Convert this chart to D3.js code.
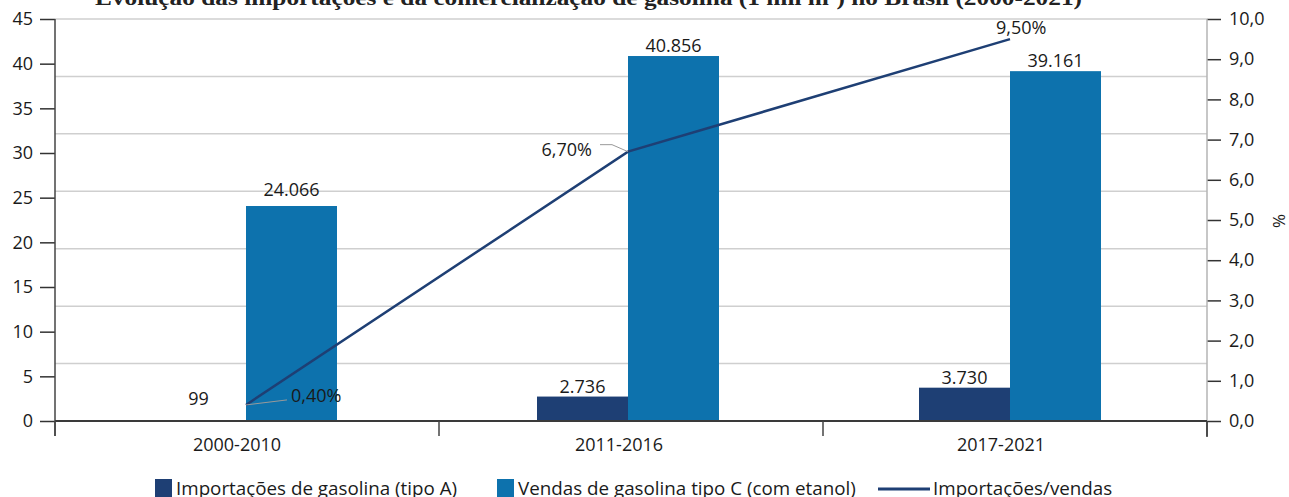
<!DOCTYPE html>
<html><head><meta charset="utf-8">
<script src="https://cdn.jsdelivr.net/npm/d3@7"></script>
<style>
html,body{margin:0;padding:0;background:#fff;}
svg{display:block;}
text{font-family:"Open Sans",sans-serif;fill:#1a1a1a;}
</style></head>
<body>
<svg id="chart" width="1289" height="497"></svg>
<script>
const titleText = "Evolução das importações e da comercialização de gasolina (1 mil m³) no Brasil (2000-2021)";
const categories = ["2000-2010", "2011-2016", "2017-2021"];
const importsA = [0.099, 2.736, 3.730];      // mil m³ (thousands)
const salesC = [24.066, 40.856, 39.161];
const ratioPct = [0.40, 6.70, 9.50];
const leftTicks = [0, 5, 10, 15, 20, 25, 30, 35, 40, 45];
const rightTicks = [0, 1, 2, 3, 4, 5, 6, 7, 8, 9, 10];
const seriesNames = ["Importações de gasolina (tipo A)", "Vendas de gasolina tipo C (com etanol)", "Importações/vendas"];

const FS = "18px", FSL = "18.8px";
const colA = "#1e3f74", colC = "#0d72ad", colLine = "#1e3f74";
const svg = d3.select("#chart");
const L = 55, R = 1207, T = 19, B = 421;

const yL = d3.scaleLinear().domain([0, 45]).range([B, T]);
const yR = d3.scaleLinear().domain([0, 10]).range([B, T]);
const xAxisScale = d3.scaleBand().domain(categories).range([L, R]);
const x0 = d3.scaleBand().domain(categories).range([L, 1201]);
const x1 = d3.scaleBand().domain(["A", "C"]).range([-91, 91]);
const cx = c => x0(c) + x0.bandwidth() / 2;

const fmtK = v => d3.format(",d")(Math.round(v * 1000)).replace(/,/g, ".");
const fmtPct = v => d3.format(".2f")(v).replace(".", ",") + "%";
const fmtR = v => d3.format(".1f")(v).replace(".", ",");

// title (cropped at top)
svg.append("text").attr("x", 95).attr("y", 5)
  .attr("textLength", 987).attr("lengthAdjust", "spacingAndGlyphs")
  .style("font-family", "'Liberation Serif', 'DejaVu Serif', serif")
  .style("font-weight", "bold").style("font-size", "21px").style("fill", "#222")
  .text(titleText);

// gridlines (7 equal divisions)
const gridVals = d3.range(1, 8).map(i => 45 * i / 7);
svg.append("g").selectAll("line").data(gridVals).join("line")
  .attr("x1", L).attr("x2", R).attr("y1", d => yL(d)).attr("y2", d => yL(d))
  .attr("stroke", "#cfcfcf").attr("stroke-width", 1.5);

// left axis
const gL = svg.append("g").attr("transform", `translate(${L},0)`)
  .call(d3.axisLeft(yL).tickValues(leftTicks).tickSize(15).tickPadding(7).tickFormat(d3.format("d")));
gL.select(".domain").remove();
gL.selectAll(".tick line").attr("stroke", "#333").attr("stroke-width", 1.5);
gL.selectAll(".tick text").style("font-size", FS).style("font-family", "'Open Sans',sans-serif").attr("fill", "#1a1a1a");
svg.append("line").attr("x1", L).attr("x2", L).attr("y1", T).attr("y2", 436).attr("stroke", "#444").attr("stroke-width", 1.5);

// right axis
const gR = svg.append("g").attr("transform", `translate(${R},0)`)
  .call(d3.axisRight(yR).tickValues(rightTicks).tickSize(14).tickPadding(8).tickFormat(fmtR));
gR.select(".domain").remove();
gR.selectAll(".tick line").attr("stroke", "#333").attr("stroke-width", 1.5);
gR.selectAll(".tick text").style("font-size", FS).style("font-family", "'Open Sans',sans-serif").attr("fill", "#1a1a1a");
svg.append("line").attr("x1", R).attr("x2", R).attr("y1", T).attr("y2", B).attr("stroke", "#b5b5b5").attr("stroke-width", 1.5);
svg.append("line").attr("x1", R).attr("x2", R).attr("y1", B).attr("y2", 437).attr("stroke", "#333").attr("stroke-width", 1.5);
svg.append("text").attr("transform", "translate(1285,221) rotate(-90)")
  .attr("text-anchor", "middle").style("font-size", "17px").text("%");

// bars
const barsData = categories.map((c, i) => [{c, k: "A", v: importsA[i]}, {c, k: "C", v: salesC[i]}]).flat();
svg.append("g").selectAll("rect").data(barsData).join("rect")
  .attr("x", d => cx(d.c) + x1(d.k)).attr("width", x1.bandwidth())
  .attr("y", d => yL(d.v)).attr("height", d => Math.max(1, B - yL(d.v)))
  .attr("fill", d => d.k === "A" ? colA : colC);

// bar labels
svg.append("g").selectAll("text").data(barsData).join("text")
  .attr("x", d => cx(d.c) + x1(d.k) + x1.bandwidth() / 2 + (d.k === "A" && d.v < 1 ? -2 : 0))
  .attr("y", d => d.v < 1 ? yL(d.v) - 15 : (d.v > 20 && d.v < 30 ? yL(d.v) - 10 : yL(d.v) - 4))
  .attr("text-anchor", "middle").style("font-size", FS)
  .text(d => fmtK(d.v));

// zero line
svg.append("line").attr("x1", L).attr("x2", R).attr("y1", B).attr("y2", B).attr("stroke", "#3a3a3a").attr("stroke-width", 2);

// x axis ticks & labels
const xTickPos = [L, ...categories.map(c => xAxisScale(c) + xAxisScale.bandwidth())];
svg.append("g").selectAll("line").data(xTickPos).join("line")
  .attr("x1", d => d).attr("x2", d => d).attr("y1", B).attr("y2", 436)
  .attr("stroke", "#444").attr("stroke-width", 1.5);
svg.append("g").selectAll("text").data(categories).join("text")
  .attr("x", c => cx(c) - 9).attr("y", 451).attr("text-anchor", "middle")
  .style("font-size", FS).text(c => c);

// line
const linePts = categories.map((c, i) => ({c, v: ratioPct[i]}));
svg.append("path").datum(linePts)
  .attr("d", d3.line().x(d => cx(d.c)).y(d => yR(d.v)))
  .attr("fill", "none").attr("stroke", colLine).attr("stroke-width", 2.5);

// line labels with leaders
const p0 = {x: cx(categories[0]), y: yR(ratioPct[0])};
const p1 = {x: cx(categories[1]), y: yR(ratioPct[1])};
const p2 = {x: cx(categories[2]), y: yR(ratioPct[2])};
svg.append("polyline").attr("points", `${p0.x},${p0.y} ${p0.x + 41},${p0.y - 5}`)
  .attr("fill", "none").attr("stroke", "#999").attr("stroke-width", 1);
svg.append("text").attr("x", p0.x + 45).attr("y", p0.y - 3).style("font-size", FS).text(fmtPct(ratioPct[0]));
svg.append("polyline").attr("points", `${p1.x},${p1.y} ${p1.x - 16},${p1.y - 7} ${p1.x - 28},${p1.y - 7}`)
  .attr("fill", "none").attr("stroke", "#999").attr("stroke-width", 1);
svg.append("text").attr("x", p1.x - 36).attr("y", p1.y + 4).attr("text-anchor", "end").style("font-size", FS).text(fmtPct(ratioPct[1]));
svg.append("text").attr("x", p2.x - 14).attr("y", p2.y - 5).style("font-size", FS).text(fmtPct(ratioPct[2]));

// legend
const lg = svg.append("g");
lg.append("rect").attr("x", 155).attr("y", 479).attr("width", 17).attr("height", 18).attr("fill", colA);
lg.append("text").attr("x", 176).attr("y", 495).style("font-size", FSL).text(seriesNames[0]);
lg.append("rect").attr("x", 497).attr("y", 479).attr("width", 17).attr("height", 18).attr("fill", colC);
lg.append("text").attr("x", 518).attr("y", 495).style("font-size", FSL).text(seriesNames[1]);
lg.append("line").attr("x1", 878).attr("x2", 930).attr("y1", 489).attr("y2", 489).attr("stroke", colLine).attr("stroke-width", 3);
lg.append("text").attr("x", 933).attr("y", 495).style("font-size", FSL).text(seriesNames[2]);
</script>
</body></html>
